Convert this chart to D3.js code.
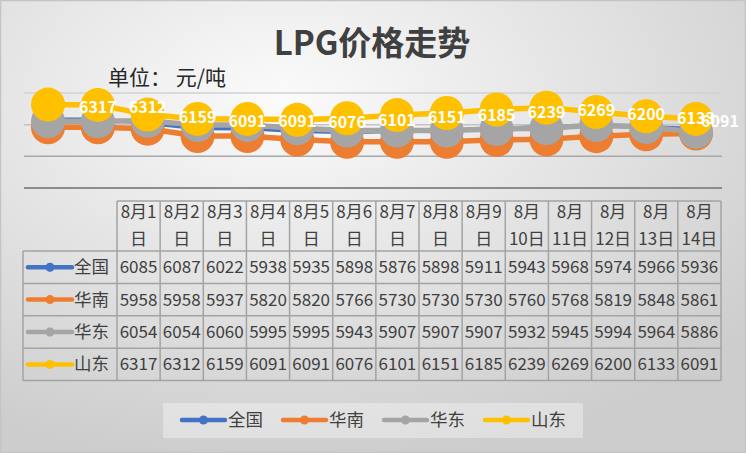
<!DOCTYPE html>
<html>
<head>
<meta charset="utf-8">
<script src="https://cdn.jsdelivr.net/npm/d3@7"></script>
<style>
  html, body { margin: 0; padding: 0; background: #fff; }
  svg { display: block; font-family: "Noto Sans CJK SC", "Noto Sans", sans-serif; }
</style>
</head>
<body>
<div id="chart"></div>
<script>
// categories
const dates = ['8月1日', '8月2日', '8月3日', '8月4日', '8月5日', '8月6日', '8月7日',
  '8月8日', '8月9日', '8月10日', '8月11日', '8月12日', '8月13日', '8月14日']

// series values (元/吨)
const quanguo = [6085, 6087, 6022, 5938, 5935, 5898, 5876, 5898, 5911, 5943, 5968, 5974, 5966, 5936]
const huanan = [5958, 5958, 5937, 5820, 5820, 5766, 5730, 5730, 5730, 5760, 5768, 5819, 5848, 5861]
const huadong = [6054, 6054, 6060, 5995, 5995, 5943, 5907, 5907, 5907, 5932, 5945, 5994, 5964, 5886]
const shandong = [6317, 6312, 6159, 6091, 6091, 6076, 6101, 6151, 6185, 6239, 6269, 6200, 6133, 6091]

const seriesNames = ['全国', '华南', '华东', '山东']
const yTicks = [5000, 5500, 6000, 6500]

const width = 746
const height = 453
const colors = ['#4472C4', '#ED7D31', '#A5A5A5', '#FFC000']
const series = [quanguo, huanan, huadong, shandong].map((values, i) => ({
  name: seriesNames[i], values, color: colors[i]
}))

const svg = d3.select('#chart')
  .append('svg')
  .attr('width', width)
  .attr('height', height)
  .attr('viewBox', [0, 0, width, height])

// background gradient
const defs = svg.append('defs')
const grad = defs.append('radialGradient')
  .attr('id', 'bg')
  .attr('cx', '38%').attr('cy', '22%').attr('r', '80%')
grad.append('stop').attr('offset', '0%').attr('stop-color', '#fbfbfb')
grad.append('stop').attr('offset', '100%').attr('stop-color', '#cdcdcd')

svg.append('rect')
  .attr('width', width).attr('height', height)
  .attr('fill', 'url(#bg)')
svg.append('rect')
  .attr('x', 0.5).attr('y', 0.5)
  .attr('width', width - 1).attr('height', height - 1)
  .attr('fill', 'none')
  .attr('stroke', '#c4c4c4')
  .attr('stroke-width', 1.5)

// title
svg.append('text')
  .attr('x', 372).attr('y', 55)
  .attr('text-anchor', 'middle')
  .style('font-size', '33px')
  .style('font-weight', 'bold')
  .style('fill', '#404040')
  .text('LPG价格走势')

svg.append('text')
  .attr('x', 108).attr('y', 85)
  .style('font-size', '21px')
  .style('fill', '#262626')
  .style('white-space', 'pre')
  .text('单位： 元/吨')

// scales
const x = d3.scalePoint().domain(dates).range([48, 696])
const y = d3.scaleLinear().domain([5000, 6500]).range([188, 93])

// gridlines
const gridColor = d3.scaleOrdinal().domain(yTicks).range(['#8c8c8c', '#a8a8a8', '#c4c4c4', '#d2d2d2'])
svg.append('g')
  .selectAll('line')
  .data(yTicks)
  .join('line')
  .attr('x1', 24).attr('x2', 722)
  .attr('y1', d => y(d)).attr('y2', d => y(d))
  .attr('stroke', d => gridColor(d))
  .attr('stroke-width', d => d === 5000 ? 2 : 1.5)

// lines + markers, series by series
const line = d3.line()
  .x((d, i) => x(dates[i]))
  .y(d => y(d))

series.forEach((s, si) => {
  const g = svg.append('g')
  g.append('path')
    .datum(s.values)
    .attr('d', line)
    .attr('fill', 'none')
    .attr('stroke', s.color)
    .attr('stroke-width', si === 0 ? 3.5 : 5.5)
    .attr('stroke-linejoin', 'round')
  g.selectAll('circle')
    .data(s.values)
    .join('circle')
    .attr('cx', (d, i) => x(dates[i]))
    .attr('cy', d => y(d))
    .attr('r', si === 0 ? 5 : 17)
    .attr('fill', s.color)
})

// data labels of 山东 (shifted one step right as in the original)
const step = x.step()
svg.append('g')
  .selectAll('text')
  .data(shandong)
  .join('text')
  .attr('x', (d, i) => Math.min(x(dates[i]) + step, 720))
  .attr('y', d => y(d) + 8)
  .attr('text-anchor', 'middle')
  .style('font-size', '16px')
  .style('font-weight', 'bold')
  .style('fill', '#fff')
  .text(d => d)

// data table
const col = d3.scaleBand().domain(dates).range([117, 721])
const tableLeft = 23
const headTop = 201
const headBottom = 251
const rowH = 32.4
const tableBottom = headBottom + rowH * series.length
const tableColor = '#a3a3a3'
const table = svg.append('g')
  .attr('stroke', tableColor)
  .attr('stroke-width', 1.5)

// vertical lines
table.selectAll('.vl')
  .data(dates.concat(['end']))
  .join('line')
  .attr('x1', d => d === 'end' ? col.range()[1] : col(d))
  .attr('x2', d => d === 'end' ? col.range()[1] : col(d))
  .attr('y1', headTop).attr('y2', tableBottom)
table.append('line')
  .attr('x1', tableLeft).attr('x2', tableLeft)
  .attr('y1', headBottom).attr('y2', tableBottom)
table.append('line')
  .attr('x1', col.range()[0]).attr('x2', col.range()[1])
  .attr('y1', headTop).attr('y2', headTop)
table.selectAll('.hl')
  .data(d3.range(series.length + 1))
  .join('line')
  .attr('x1', tableLeft).attr('x2', col.range()[1])
  .attr('y1', i => headBottom + i * rowH)
  .attr('y2', i => headBottom + i * rowH)

// header text
const splitDate = d => d.length === 4 ? [d.slice(0, 3), d.slice(3)] : [d.slice(0, 2), d.slice(2)]
const head = svg.append('g')
  .style('font-size', '17px')
  .style('fill', '#404040')
  .attr('text-anchor', 'middle')
dates.forEach(d => {
  const cx = col(d) + col.bandwidth() / 2
  const parts = splitDate(d)
  head.append('text').attr('x', cx).attr('y', 218).text(parts[0])
  head.append('text').attr('x', cx).attr('y', 245).text(parts[1])
})

// rows
series.forEach((s, si) => {
  const cy = headBottom + rowH * si + rowH / 2
  const r = svg.append('g')
  r.append('line')
    .attr('x1', 28).attr('x2', 72)
    .attr('y1', cy).attr('y2', cy)
    .attr('stroke', s.color)
    .attr('stroke-width', 4.5)
    .attr('stroke-linecap', 'round')
  r.append('circle')
    .attr('cx', 50).attr('cy', cy).attr('r', 4.5)
    .attr('fill', s.color)
  r.append('text')
    .attr('x', 74).attr('y', cy + 6)
    .style('font-size', '17.5px')
    .style('fill', '#404040')
    .text(s.name)
  r.selectAll('.v')
    .data(s.values)
    .join('text')
    .attr('x', (d, i) => col(dates[i]) + col.bandwidth() / 2)
    .attr('y', cy + 6)
    .attr('text-anchor', 'middle')
    .style('font-size', '17px')
    .style('fill', '#404040')
    .text(d => d)
})

// legend
const legend = svg.append('g')
legend.append('rect')
  .attr('x', 163).attr('y', 403)
  .attr('width', 420).attr('height', 35)
  .attr('fill', '#ffffff')
  .attr('fill-opacity', 0.35)
const item = legend.selectAll('.item')
  .data(series)
  .join('g')
  .attr('transform', (d, i) => `translate(${182 + i * 101},420)`)
item.append('line')
  .attr('x1', 0).attr('x2', 43)
  .attr('stroke', d => d.color)
  .attr('stroke-width', 4.5)
  .attr('stroke-linecap', 'round')
item.append('circle')
  .attr('cx', 21.5).attr('r', 4.5)
  .attr('fill', d => d.color)
item.append('text')
  .attr('x', 46).attr('y', 6)
  .style('font-size', '17.5px')
  .style('fill', '#404040')
  .text(d => d.name)
</script>
</body>
</html>
